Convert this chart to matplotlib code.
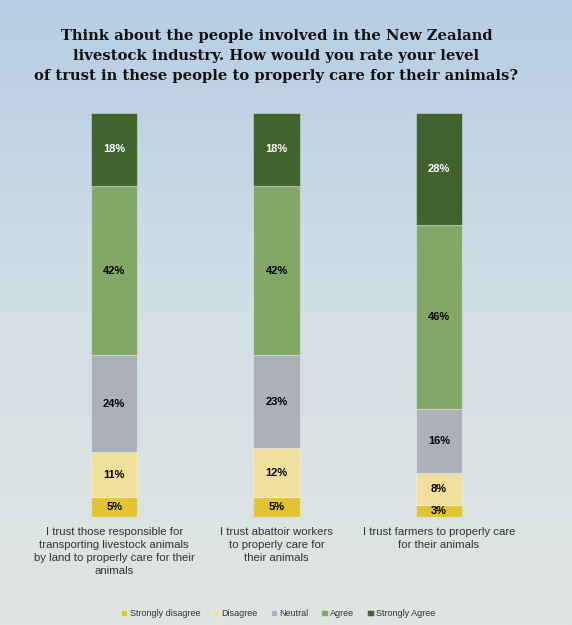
import numpy as np
import matplotlib.pyplot as plt
from matplotlib.colors import LinearSegmentedColormap

# Données
categories = [
    "I trust those responsible for\ntransporting livestock animals\nby land to properly care for their\nanimals",
    "I trust abattoir workers\nto properly care for\ntheir animals",
    "I trust farmers to properly care\nfor their animals",
]
series_names = ["Strongly disagree", "Disagree", "Neutral", "Agree", "Strongly Agree"]
strongly_disagree = [5, 5, 3]
disagree = [11, 12, 8]
neutral = [24, 23, 16]
agree = [42, 42, 46]
strongly_agree = [18, 18, 28]

colors = ["#e0c433", "#f0e09b", "#adb0ba", "#82a867", "#41632e"]
label_colors = ["black", "black", "black", "black", "white"]

series = np.array([strongly_disagree, disagree, neutral, agree, strongly_agree], dtype=float)
totals = series.sum(axis=0)
shares = series / totals * 100

fig = plt.figure(figsize=(5.72, 6.25), dpi=100)

# fond en dégradé
bg = fig.add_axes([0, 0, 1, 1], zorder=0)
grad = LinearSegmentedColormap.from_list("bg", ["#b6cde3", "#d3dfe6", "#dfe5e2"])
bg.imshow(np.linspace(0, 1, 256).reshape(-1, 1), aspect="auto", cmap=grad, extent=[0, 1, 0, 1])
bg.axis("off")

fig.text(0.483, 0.910,
         "Think about the people involved in the New Zealand\n"
         "livestock industry. How would you rate your level\n"
         "of trust in these people to properly care for their animals?",
         ha="center", va="center", fontsize=10.6, fontweight="bold",
         family="DejaVu Serif", color="#111111", linespacing=1.55)

ax = fig.add_axes([33 / 572, 108 / 625, 487 / 572, 404 / 625], zorder=1)
ax.patch.set_alpha(0)
x = np.arange(len(categories))
bottom = np.zeros(len(categories))
for i, name in enumerate(series_names):
    ax.bar(x, shares[i], 0.285, bottom=bottom, color=colors[i], label=name,
           edgecolor=(1, 1, 1, 0.35), linewidth=0.8)
    for j in range(len(categories)):
        ax.text(x[j], bottom[j] + shares[i][j] / 2, f"{int(series[i][j])}%",
                ha="center", va="center", fontsize=8, fontweight="bold",
                color=label_colors[i], family="Liberation Sans")
    bottom += shares[i]

ax.set_xlim(-0.5, 2.5)
ax.set_ylim(0, 100)
ax.set_yticks([])
ax.set_xticks(x)
ax.set_xticklabels(categories, fontsize=8.2, color="#333333", family="Liberation Sans",
                   linespacing=1.4)
ax.tick_params(axis="x", length=0, pad=7)
for s in ax.spines.values():
    s.set_visible(False)

leg = fig.legend(loc="center", bbox_to_anchor=(0.486, 0.018), ncol=5, frameon=False,
                 handlelength=0.7, handleheight=0.7, handletextpad=0.3,
                 columnspacing=1.4, prop={"family": "Liberation Sans", "size": 6.5})
for t in leg.get_texts():
    t.set_color("#333333")

plt.savefig("out.png", dpi=100)
